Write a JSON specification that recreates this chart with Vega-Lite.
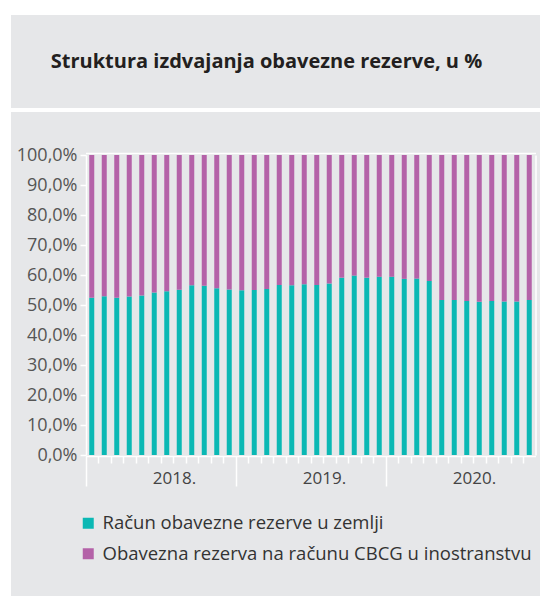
{
  "$schema": "https://vega.github.io/schema/vega-lite/v6.json",
  "background": "white",
  "padding": {"left": 11, "top": 15, "right": 0, "bottom": 0},
  "spacing": 4,
  "config": {"view": {"fill": "#e6e7e9", "stroke": null}, "font": "Open Sans"},
  "datasets": {
    "rez": [
      {"m": "2018-01", "zemlja": 52.4, "inostranstvo": 47.6},
      {"m": "2018-02", "zemlja": 52.9, "inostranstvo": 47.1},
      {"m": "2018-03", "zemlja": 52.4, "inostranstvo": 47.6},
      {"m": "2018-04", "zemlja": 52.8, "inostranstvo": 47.2},
      {"m": "2018-05", "zemlja": 53.2, "inostranstvo": 46.8},
      {"m": "2018-06", "zemlja": 54.2, "inostranstvo": 45.8},
      {"m": "2018-07", "zemlja": 54.6, "inostranstvo": 45.4},
      {"m": "2018-08", "zemlja": 55.1, "inostranstvo": 44.9},
      {"m": "2018-09", "zemlja": 56.6, "inostranstvo": 43.4},
      {"m": "2018-10", "zemlja": 56.4, "inostranstvo": 43.6},
      {"m": "2018-11", "zemlja": 55.6, "inostranstvo": 44.4},
      {"m": "2018-12", "zemlja": 55.2, "inostranstvo": 44.8},
      {"m": "2019-01", "zemlja": 54.9, "inostranstvo": 45.1},
      {"m": "2019-02", "zemlja": 55.0, "inostranstvo": 45.0},
      {"m": "2019-03", "zemlja": 55.3, "inostranstvo": 44.7},
      {"m": "2019-04", "zemlja": 56.7, "inostranstvo": 43.3},
      {"m": "2019-05", "zemlja": 56.6, "inostranstvo": 43.4},
      {"m": "2019-06", "zemlja": 56.9, "inostranstvo": 43.1},
      {"m": "2019-07", "zemlja": 56.7, "inostranstvo": 43.3},
      {"m": "2019-08", "zemlja": 57.2, "inostranstvo": 42.8},
      {"m": "2019-09", "zemlja": 59.1, "inostranstvo": 40.9},
      {"m": "2019-10", "zemlja": 59.8, "inostranstvo": 40.2},
      {"m": "2019-11", "zemlja": 59.1, "inostranstvo": 40.9},
      {"m": "2019-12", "zemlja": 59.4, "inostranstvo": 40.6},
      {"m": "2020-01", "zemlja": 59.4, "inostranstvo": 40.6},
      {"m": "2020-02", "zemlja": 58.7, "inostranstvo": 41.3},
      {"m": "2020-03", "zemlja": 58.8, "inostranstvo": 41.2},
      {"m": "2020-04", "zemlja": 58.0, "inostranstvo": 42.0},
      {"m": "2020-05", "zemlja": 51.7, "inostranstvo": 48.3},
      {"m": "2020-06", "zemlja": 51.7, "inostranstvo": 48.3},
      {"m": "2020-07", "zemlja": 51.3, "inostranstvo": 48.7},
      {"m": "2020-08", "zemlja": 51.1, "inostranstvo": 48.9},
      {"m": "2020-09", "zemlja": 51.3, "inostranstvo": 48.7},
      {"m": "2020-10", "zemlja": 51.2, "inostranstvo": 48.8},
      {"m": "2020-11", "zemlja": 51.2, "inostranstvo": 48.8},
      {"m": "2020-12", "zemlja": 51.7, "inostranstvo": 48.3}
    ]
  },
  "vconcat": [
    {
      "width": 529,
      "height": 93,
      "view": {"fill": "#e6e7e9", "stroke": null},
      "data": {"values": [{"t": "Struktura izdvajanja obavezne rezerve, u %"}]},
      "mark": {"type": "text", "font": "Open Sans", "fontWeight": "bold", "fontSize": 20, "color": "#231f20", "dx": -9, "baseline": "middle", "align": "center"},
      "encoding": {
        "text": {"field": "t"},
        "x": {"datum": 0, "type": "quantitative", "scale": {"domain": [-1, 1]}, "axis": null},
        "y": {"datum": 0, "type": "quantitative", "scale": {"domain": [-1, 1]}, "axis": null}
      }
    },
    {
      "width": 529,
      "height": 484,
      "data": {"name": "rez"},
      "transform": [{"fold": ["zemlja", "inostranstvo"], "as": ["k", "v"]}],
      "layer": [
        {
          "mark": {"type": "bar"},
          "encoding": {
            "x": {
              "field": "m", "type": "ordinal",
              "scale": {"range": [74.5, 524.5], "paddingInner": 0.6, "paddingOuter": 0.3},
              "axis": {
                "orient": "bottom", "offset": -140, "title": null,
                "domainColor": "white", "domainWidth": 1.5,
                "tickColor": "white", "tickWidth": 1.5, "tickOffset": -6.25,
                "tickSize": {"condition": {"test": "datum.value == '2018-01' || datum.value == '2019-01' || datum.value == '2020-01'", "value": 30}, "value": 7},
                "labelExpr": "datum.value == '2018-07' ? '2018.' : datum.value == '2019-07' ? '2019.' : datum.value == '2020-07' ? '2020.' : ''",
                "labelAngle": 0, "labelFontSize": 17, "labelColor": "#444444", "labelPadding": 7, "labelOffset": 13.5,
                "labelOverlap": false, "labelBound": false, "grid": false
              }
            },
            "y": {
              "field": "v", "type": "quantitative", "stack": "zero",
              "scale": {"domain": [0, 100], "range": [343, 43], "nice": false},
              "axis": {
                "orient": "left", "offset": -75, "title": null, "grid": false,
                "values": [0, 10, 20, 30, 40, 50, 60, 70, 80, 90, 100],
                "domainColor": "white", "domainWidth": 1.5,
                "tickColor": "white", "tickWidth": 1.5, "tickSize": 6,
                "labelPadding": 3, "labelFontSize": 18, "labelColor": "#555555",
                "labelExpr": "replace(format(datum.value, '.1f'), '.', ',') + '%'"
              }
            },
            "color": {
              "field": "k", "type": "nominal",
              "scale": {"domain": ["zemlja", "inostranstvo"], "range": ["#0bb8b4", "#b462a8"]},
              "legend": {
                "orient": "none", "legendX": 68, "legendY": 499, "title": null, "padding": 0,
                "direction": "vertical", "symbolType": "square", "symbolSize": 121, "symbolStrokeWidth": 0,
                "labelFontSize": 18.5, "labelColor": "#333333", "labelOffset": 5, "rowPadding": 11.5,
                "labelLimit": 0,
                "labelExpr": "datum.label == 'zemlja' ? 'Račun obavezne rezerve u zemlji' : 'Obavezna rezerva na računu CBCG u inostranstvu'"
              }
            },
            "order": {"field": "k", "sort": "descending"}
          }
        },
        {
          "mark": {"type": "bar", "opacity": 0},
          "encoding": {
            "x": {
              "field": "m", "type": "ordinal",
              "axis": {"orient": "top", "offset": -41, "title": null, "domainColor": "white", "domainWidth": 1.5, "ticks": false, "labels": false, "grid": false}
            },
            "y": {
              "field": "v", "type": "quantitative",
              "axis": {"orient": "right", "offset": -4.5, "title": null, "domainColor": "white", "domainWidth": 1.5, "ticks": false, "labels": false, "grid": false}
            }
          }
        }
      ],
      "resolve": {"axis": {"x": "independent", "y": "independent"}}
    }
  ]
}
